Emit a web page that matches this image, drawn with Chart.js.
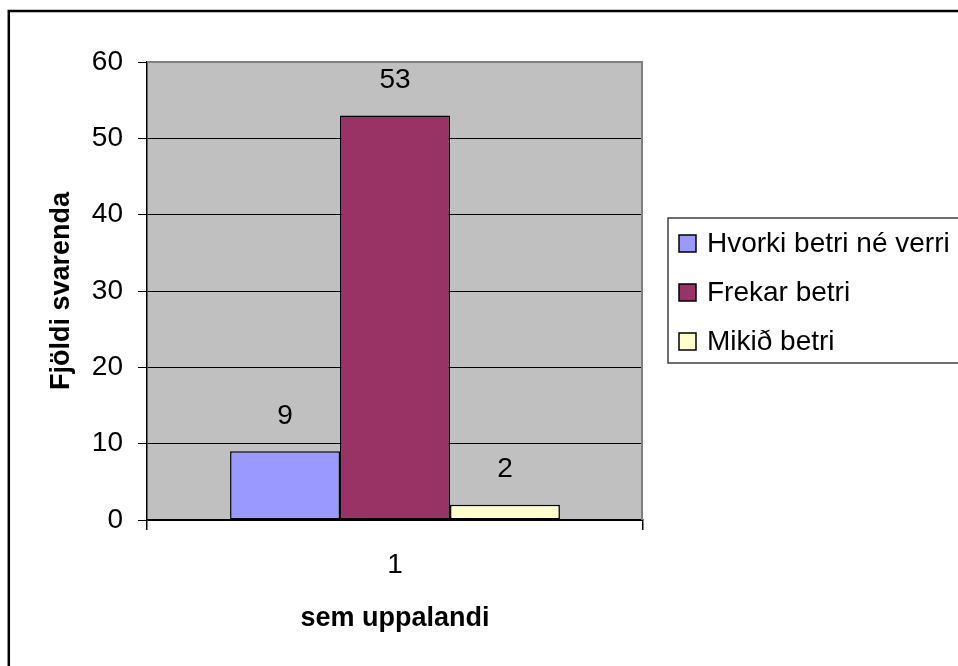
<!DOCTYPE html>
<html>
<head>
<meta charset="utf-8">
<script src="https://cdn.jsdelivr.net/npm/chart.js@4.4.1/dist/chart.umd.min.js"></script>
<style>
  html, body { margin: 0; padding: 0; background: #ffffff; }
  canvas { display: block; }
</style>
</head>
<body>
<canvas id="c" width="958" height="666"></canvas>
<script>
const categories = ['1'];
const seriesNames = ['Hvorki betri né verri', 'Frekar betri', 'Mikið betri'];
const seriesColors = ['#9999FF', '#993366', '#FFFFCC'];
const hvorkiValues = [9];
const frekarValues = [53];
const mikidValues = [2];
const yTickValues = [0, 10, 20, 30, 40, 50, 60];
const yTitle = 'Fjöldi svarenda';
const xTitle = 'sem uppalandi';

const FONT = "'Liberation Sans', Arial, sans-serif";
const seriesValues = [hvorkiValues, frekarValues, mikidValues];

const datasets = seriesNames.map((name, i) => ({
  label: name,
  data: seriesValues[i],
  backgroundColor: seriesColors[i],
  borderColor: '#000000',
  borderWidth: 1.5,
  borderSkipped: false,
  categoryPercentage: 0.665,
  barPercentage: 1.0
}));

const framePlugin = {
  id: 'frame',
  beforeDraw(chart) {
    const ctx = chart.ctx;
    const a = chart.chartArea;
    ctx.save();
    ctx.fillStyle = '#ffffff';
    ctx.fillRect(0, 0, chart.width, chart.height);
    ctx.fillStyle = '#C0C0C0';
    ctx.fillRect(a.left, a.top, a.right - a.left, a.bottom - a.top);
    // outer border (top and left visible; right/bottom run off the image)
    ctx.strokeStyle = '#000000';
    ctx.lineWidth = 2.5;
    ctx.strokeRect(8.8, 11, chart.width + 20, chart.height + 20);
    ctx.restore();
  },
  afterDatasetsDraw(chart) {
    const ctx = chart.ctx;
    const a = chart.chartArea;
    ctx.save();
    // plot area border top & right
    ctx.strokeStyle = '#808080';
    ctx.lineWidth = 2;
    ctx.beginPath();
    ctx.moveTo(a.left, a.top);
    ctx.lineTo(a.right - 1, a.top);
    ctx.lineTo(a.right - 1, a.bottom);
    ctx.stroke();
    // data labels
    ctx.fillStyle = '#000000';
    ctx.font = '28px ' + FONT;
    ctx.textAlign = 'center';
    ctx.textBaseline = 'middle';
    chart.data.datasets.forEach((ds, i) => {
      const meta = chart.getDatasetMeta(i);
      meta.data.forEach((bar, j) => {
        ctx.fillText(String(Math.round(ds.data[j])), bar.x, bar.y - 35);
      });
    });
    // legend
    const lx = 668, ly = 218, lw = 300, lh = 145;
    ctx.strokeStyle = '#404040';
    ctx.lineWidth = 1.5;
    ctx.strokeRect(lx, ly, lw, lh);
    ctx.textAlign = 'left';
    ctx.textBaseline = 'alphabetic';
    chart.data.datasets.forEach((ds, i) => {
      const cy = 243.5 + i * 49;
      ctx.fillStyle = ds.backgroundColor;
      ctx.fillRect(679, cy - 8.5, 17, 17);
      ctx.strokeStyle = '#000000';
      ctx.lineWidth = 1.5;
      ctx.strokeRect(679, cy - 8.5, 17, 17);
      ctx.fillStyle = '#000000';
      ctx.fillText(ds.label, 707, cy + 8.5);
    });
    ctx.restore();
  }
};

new Chart(document.getElementById('c'), {
  type: 'bar',
  data: { labels: categories, datasets: datasets },
  options: {
    responsive: false,
    animation: false,
    devicePixelRatio: 1,
    layout: { padding: { left: 0, top: 62, right: 315, bottom: 0 } },
    plugins: {
      legend: { display: false },
      tooltip: { enabled: false }
    },
    scales: {
      x: {
        offset: true,
        afterFit(scale) { scale.height = 146; },
        grid: {
          offset: true,
          drawOnChartArea: false,
          drawTicks: true,
          tickLength: 10,
          color: '#000000',
          lineWidth: 1.5
        },
        border: { display: true, color: '#000000', width: 1.5 },
        ticks: { color: '#000000', font: { family: FONT, size: 28 }, padding: 18 },
        title: {
          display: true,
          text: xTitle,
          color: '#000000',
          font: { family: FONT, size: 27, weight: 'bold' },
          padding: { top: 0, bottom: 31 }
        }
      },
      y: {
        min: 0,
        max: 60,
        afterFit(scale) { scale.width = 147; },
        afterBuildTicks(scale) { scale.ticks = yTickValues.map(v => ({ value: v })); },
        grid: {
          color: '#000000',
          lineWidth: 1,
          tickLength: 9
        },
        border: { display: true, color: '#000000', width: 1.5 },
        ticks: { color: '#000000', font: { family: FONT, size: 28 }, padding: 15 },
        title: {
          display: true,
          text: yTitle,
          color: '#000000',
          font: { family: FONT, size: 27, weight: 'bold' },
          padding: { top: 45, bottom: 0 }
        }
      }
    }
  },
  plugins: [framePlugin]
});
</script>
</body>
</html>
